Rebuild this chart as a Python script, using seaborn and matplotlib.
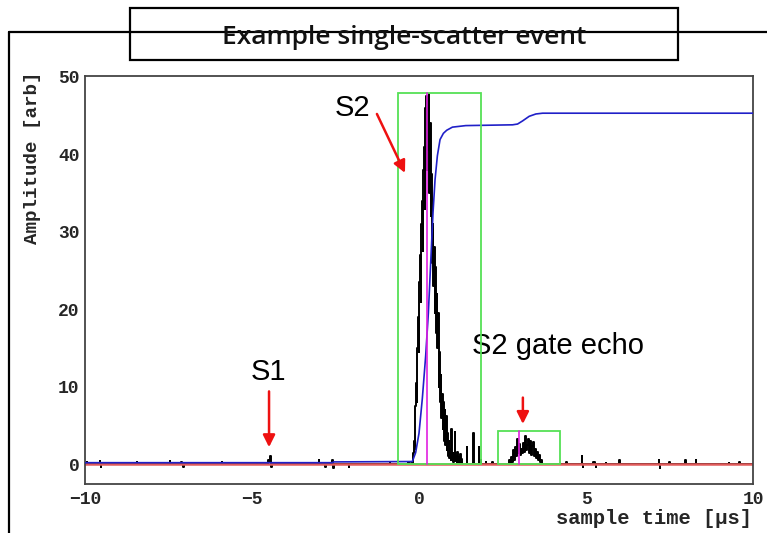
import matplotlib
matplotlib.use("Agg")
import matplotlib.pyplot as plt
import seaborn as sns
import pandas as pd
from matplotlib.patches import Rectangle
from matplotlib.lines import Line2D
from matplotlib.ticker import MultipleLocator

# black waveform: sample time [us] and amplitude [arb]
wave_t = [-10.0, -9.96, -9.95, -9.94, -9.56, -9.55, -9.53, -9.52, -9.51, -8.46, -8.45, -8.44,
          -7.46, -7.45, -7.44, -7.13, -7.12, -7.06, -7.05, -7.04, -5.91, -5.9, -5.89,
          -4.86, -4.85, -4.84, -4.53, -4.52, -4.48, -4.45, -4.42, -4.41,
          -3.01, -3.0, -2.99, -2.81, -2.8, -2.79, -2.61, -2.6, -2.55, -2.54, -2.11, -2.1, -2.09,
          -0.88, -0.87, -0.86, -0.32, -0.31, -0.3,
          -0.20, -0.18, -0.16, -0.14, -0.12, -0.10, -0.08, -0.06, -0.04, -0.02,
          0.00, 0.02, 0.04, 0.06, 0.08, 0.10, 0.12, 0.14, 0.16, 0.18,
          0.20, 0.22, 0.24, 0.26, 0.28, 0.30, 0.32, 0.34, 0.36, 0.38,
          0.40, 0.42, 0.44, 0.46, 0.48, 0.50, 0.52, 0.54, 0.56, 0.58,
          0.60, 0.62, 0.64, 0.66, 0.68, 0.70, 0.72, 0.74, 0.76, 0.78,
          0.80, 0.82, 0.84, 0.86, 0.88, 0.90, 0.92, 0.94, 0.96, 0.98,
          1.00, 1.02, 1.04, 1.06, 1.08, 1.10, 1.12, 1.14, 1.16, 1.18,
          1.20, 1.22, 1.24, 1.26, 1.28, 1.30,
          1.42, 1.43, 1.44, 1.62, 1.63, 1.64, 1.79, 1.80, 1.81, 1.84, 1.85, 1.86,
          1.99, 2.0, 2.01, 2.19, 2.2, 2.21,
          2.69, 2.72, 2.75, 2.78, 2.81, 2.84, 2.87, 2.90, 2.93, 2.96, 2.99,
          3.02, 3.05, 3.08, 3.11, 3.14, 3.17, 3.20, 3.23, 3.26, 3.29,
          3.32, 3.35, 3.38, 3.41, 3.44, 3.47, 3.50, 3.53, 3.56, 3.59,
          3.62, 3.65, 3.68, 3.71,
          4.41, 4.42, 4.43, 4.87, 4.88, 4.91, 4.92, 4.93, 5.21, 5.22, 5.29, 5.3, 5.31,
          5.59, 5.6, 5.61, 5.99, 6.0, 6.01, 7.17, 7.18, 7.21, 7.22, 7.23,
          7.49, 7.5, 7.51, 7.97, 7.98, 7.99, 8.29, 8.3, 8.31, 9.27, 9.28, 9.29,
          9.59, 9.6, 9.61, 10.0]
wave_a = [0.0, 0.0, 0.3, 0.0, 0.0, 0.4, 0.0, -0.3, 0.0, 0.0, 0.3, 0.0,
          0.0, 0.4, 0.0, 0.0, 0.3, 0.0, -0.3, 0.0, 0.0, 0.3, 0.0,
          0.0, 0.2, 0.0, 0.0, 0.5, 0.3, 1.0, -0.4, 0.0,
          0.0, 0.6, 0.0, 0.0, -0.3, 0.0, 0.0, 0.5, -0.5, 0.0, 0.0, -0.3, 0.0,
          0.0, 0.3, 0.0, 0.0, 0.3, 0.0,
          0.2, 0.6, 1.5, 3.0, 2.0, 7.5, 10.5, 8.0, 15.0, 19.0,
          14.5, 23.5, 27.0, 21.0, 31.0, 34.0, 27.5, 38.0, 41.0, 33.0,
          46.0, 47.5, 38.0, 46.0, 40.5, 47.8, 35.0, 44.0, 32.0, 37.5,
          26.0, 31.0, 23.0, 28.0, 19.5, 25.5, 17.0, 22.0, 15.0, 19.5,
          10.0, 14.5, 8.0, 11.5, 6.0, 9.0, 4.5, 8.0, 3.0, 7.0,
          2.5, 6.2, 1.8, 4.0, 1.0, 3.0, 0.8, 2.0, 0.5, 4.6,
          0.6, 1.5, 0.3, 1.2, 4.2, 0.4, 1.0, 0.2, 1.6, 0.3,
          0.9, 0.1, 1.3, 0.2, 0.7, 0.0,
          0.0, 2.2, 0.0, 0.0, 4.0, 0.0, 0.0, 2.2, 0.0, 0.0, 0.6, 0.0,
          0.0, 0.3, 0.0, 0.0, 0.3, 0.0,
          0.0, 0.5, 0.2, 0.9, 0.3, 1.8, 0.6, 2.2, 1.0, 3.2, 1.5,
          2.6, 1.2, 2.0, 1.4, 2.8, 1.6, 3.6, 1.8, 2.5, 3.2,
          1.4, 3.0, 1.2, 2.4, 2.9, 1.0, 2.0, 0.8, 1.6, 0.5,
          1.2, 0.3, 0.6, 0.0,
          0.0, 0.3, 0.0, 0.0, 1.0, 0.0, -0.3, 0.0, 0.0, 0.3, 0.0, -0.3, 0.0,
          0.0, 0.2, 0.0, 0.0, 0.6, 0.0, 0.0, 0.5, 0.0, -0.5, 0.0,
          0.0, 0.3, 0.0, 0.0, 0.5, 0.0, 0.0, 0.5, 0.0, 0.0, 0.2, 0.0,
          0.0, 0.3, 0.0, 0.0]

# blue cumulative sum
cum_t = [-10.0, -2.6, -2.55, -0.2, -0.1, 0.0, 0.1, 0.2, 0.28, 0.35, 0.42, 0.48, 0.55,
         0.63, 0.73, 0.83, 1.0, 1.4, 2.8, 2.95, 3.1, 3.3, 3.5, 3.7, 10.0]
cum_a = [0.2, 0.2, 0.3, 0.35, 1.5, 4.0, 8.5, 14.0, 19.5, 26.0, 32.5, 36.7, 39.8,
         41.9, 42.7, 43.1, 43.5, 43.7, 43.8, 43.9, 44.3, 44.9, 45.2, 45.3, 45.3]

# pulse windows (green boxes) and pulse peak times (magenta)
win_start = [-0.64, 2.38]
win_end = [1.87, 4.22]
win_height = [47.9, 4.26]
peak_time = [0.23, 3.0]

# labels and arrows: text pos, arrow tail, arrow head
labels = ["S1", "S2", "S2 gate echo"]
label_pos = [(-4.5, 11.9), (-2.0, 46.0), (4.15, 15.2)]
arrow_tail = [(-4.49, 9.4), (-1.26, 45.2), (3.11, 8.6)]
arrow_head = [(-4.49, 2.2), (-0.42, 37.6), (3.11, 5.2)]

wave = pd.DataFrame({"t": wave_t, "a": wave_a})
cum = pd.DataFrame({"t": cum_t, "a": cum_a})

sns.set_style("white")
mono = "Liberation Mono"

fig = plt.figure(figsize=(7.67, 5.33), dpi=100)
ax = fig.add_axes([85 / 767, 1 - 484 / 533, 668 / 767, 408 / 533])

sns.lineplot(data=wave, x="t", y="a", ax=ax, estimator=None, sort=False,
             drawstyle="steps-mid", color="black", lw=1.4, zorder=2)
ax.axhline(0, color="#e05a5a", lw=1.8, zorder=2.5)
sns.lineplot(data=cum, x="t", y="a", ax=ax, estimator=None, sort=False,
             color="#2020c8", lw=1.2, zorder=3)

for s, e, h, p in zip(win_start, win_end, win_height, peak_time):
    ax.add_patch(Rectangle((s, 0), e - s, h, fill=False, edgecolor="#55e055", lw=1.3, zorder=4))
    ax.plot([p, p], [0, h], color="#e020e0", lw=1.2, zorder=4)

for lab, pos, tail, head in zip(labels, label_pos, arrow_tail, arrow_head):
    ax.annotate("", xy=head, xytext=tail, zorder=6,
                arrowprops=dict(arrowstyle="-|>", color="#ee1111", lw=1.8, mutation_scale=18,
                                shrinkA=0, shrinkB=0))
    ax.text(pos[0], pos[1], lab, ha="center", va="center", fontsize=21,
            family="Liberation Sans", color="black")

ax.set_xlim(-10, 10)
ax.set_ylim(-2.55, 50.1)
ax.xaxis.set_major_locator(MultipleLocator(5))
ax.xaxis.set_minor_locator(MultipleLocator(1))
ax.yaxis.set_major_locator(MultipleLocator(10))
ax.yaxis.set_minor_locator(MultipleLocator(2))
ax.tick_params(axis="x", which="major", direction="in", length=8, width=1, color="#333333",
               pad=5, labelsize=13)
ax.tick_params(axis="x", which="minor", direction="in", length=4, width=1, color="#333333")
ax.tick_params(axis="y", which="major", direction="in", length=14, width=1, color="#333333",
               pad=4, labelsize=13)
ax.tick_params(axis="y", which="minor", direction="in", length=7, width=1, color="#333333")
for lab in ax.get_xticklabels() + ax.get_yticklabels():
    lab.set_family(mono)
    lab.set_fontweight("bold")
for sp in ax.spines.values():
    sp.set_color("#444444")
    sp.set_linewidth(1.3)
ax.set_xlabel("")
ax.set_ylabel("")

fig.text(33 / 767, 1 - 72 / 533, "Amplitude [arb]", rotation=90, ha="center", va="top",
         family=mono, fontweight="bold", fontsize=13.8)
fig.text(752 / 767, 1 - 519 / 533, "sample time [µs]", ha="right", va="center",
         family=mono, fontweight="bold", fontsize=14.8)

# outer frame and title box
fig.add_artist(Line2D([9 / 767, 9 / 767], [0, 1 - 32 / 533], color="black", lw=1.6))
fig.add_artist(Line2D([9 / 767, 1], [1 - 32 / 533, 1 - 32 / 533], color="black", lw=1.6))
fig.add_artist(Rectangle((130 / 767, 1 - 60 / 533), 548 / 767, 52 / 533,
                         transform=fig.transFigure, facecolor="white", edgecolor="black", lw=1.6))
fig.text(404 / 767, 1 - 37 / 533, "Example single-scatter event", ha="center", va="center",
         family="Open Sans", fontweight="semibold", fontsize=19, color="#111111")

fig.savefig("out.png", dpi=100)
